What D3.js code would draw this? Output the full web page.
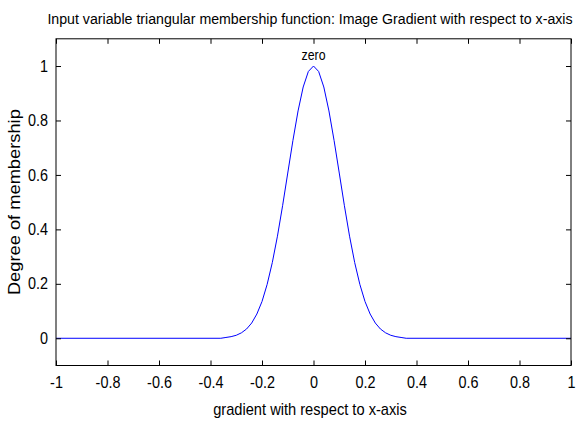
<!DOCTYPE html>
<html>
<head>
<meta charset="utf-8">
<script src="https://cdn.jsdelivr.net/npm/d3@7"></script>
<style>
  html, body { margin: 0; padding: 0; background: #fff; }
  svg { display: block; font-family: "Liberation Sans", Arial, Helvetica, sans-serif; }
</style>
</head>
<body>
<svg id="chart" width="580" height="421"></svg>
<script>
// ---- data ----
const titleText = "Input variable triangular membership function: Image Gradient with respect to x-axis";
const xLabelText = "gradient with respect to x-axis";
const yLabelText = "Degree of membership";
const mfName = "zero";
const mfPeakX = 0;
const mfPeakY = 1;

const xTicks = [-1, -0.8, -0.6, -0.4, -0.2, 0, 0.2, 0.4, 0.6, 0.8, 1];
const xTickLabels = ["-1", "-0.8", "-0.6", "-0.4", "-0.2", "0", "0.2", "0.4", "0.6", "0.8", "1"];
const yTicks = [0, 0.2, 0.4, 0.6, 0.8, 1];
const yTickLabels = ["0", "0.2", "0.4", "0.6", "0.8", "1"];

const xValues = [-1, -0.36, -0.34, -0.32, -0.30, -0.28, -0.26, -0.24, -0.22, -0.20, -0.18, -0.16, -0.14, -0.12, -0.10, -0.08, -0.06, -0.04, -0.02, 0,
                 0.02, 0.04, 0.06, 0.08, 0.10, 0.12, 0.14, 0.16, 0.18, 0.20, 0.22, 0.24, 0.26, 0.28, 0.30, 0.32, 0.34, 0.36, 1];
const yValues = [0, 0, 0.003, 0.006, 0.011, 0.020, 0.034, 0.056, 0.089, 0.135, 0.198, 0.278, 0.375, 0.487, 0.607, 0.726, 0.835, 0.923, 0.980, 1,
                 0.980, 0.923, 0.835, 0.726, 0.607, 0.487, 0.375, 0.278, 0.198, 0.135, 0.089, 0.056, 0.034, 0.020, 0.011, 0.006, 0.003, 0, 0];

// ---- layout ----
const svg = d3.select("#chart");
const L = 56, R = 571, T = 38.8, B = 365.5;

const x = d3.scaleLinear().domain([-1, 1]).range([L, R]);
const y = d3.scaleLinear().domain([-0.1, 1.1]).range([B, T]);

const tickLen = 5;

// text fitted to a target width: condensed via smaller font + vertical stretch,
// or widened via horizontal stretch
function fittedText(parent, str, cx, cy, targetW, targetFs, rotate) {
  const t = parent.append("text")
    .attr("text-anchor", "middle")
    .attr("fill", "#000")
    .attr("font-size", targetFs)
    .text(str);
  const w = t.node().getComputedTextLength();
  const rot = rotate ? " rotate(-90)" : "";
  if (w > targetW) {
    const fs = targetFs * targetW / w;
    t.attr("font-size", fs)
     .attr("transform", `translate(${cx},${cy})${rot} scale(1,${targetFs / fs})`);
  } else {
    t.attr("transform", `translate(${cx},${cy})${rot} scale(${targetW / w},1)`);
  }
  return t;
}

// title
fittedText(svg, titleText, 310, 24, 526, 15, false);

// curve
const pts = xValues.map((v, i) => [v, yValues[i]]);
svg.append("path")
  .datum(pts)
  .attr("fill", "none")
  .attr("stroke", "#0000ff")
  .attr("stroke-width", 1)
  .attr("d", d3.line().x(d => x(d[0])).y(d => y(d[1])));

// axes (MATLAB style box with inward ticks)
const bottomAxis = d3.axisBottom(x).tickValues(xTicks).tickSizeInner(-tickLen).tickSizeOuter(0)
  .tickFormat((d, i) => xTickLabels[i]).tickPadding(11);
const topAxis = d3.axisTop(x).tickValues(xTicks).tickSizeInner(-tickLen).tickSizeOuter(0).tickFormat("");
const leftAxis = d3.axisLeft(y).tickValues(yTicks).tickSizeInner(-tickLen).tickSizeOuter(0)
  .tickFormat((d, i) => yTickLabels[i]).tickPadding(9);
const rightAxis = d3.axisRight(y).tickValues(yTicks).tickSizeInner(-tickLen).tickSizeOuter(0).tickFormat("");

function style(g) {
  g.selectAll(".domain").remove();
  g.selectAll(".tick line").attr("stroke", "#000").attr("stroke-width", 1);
  g.selectAll(".tick text").attr("fill", "#000").attr("font-size", 16)
    .attr("font-family", '"Liberation Sans", Arial, sans-serif')
    .attr("transform", "scale(0.9,1)");
}

svg.append("g").attr("transform", `translate(0,${B})`).call(bottomAxis).call(style);
svg.append("g").attr("transform", `translate(0,${T})`).call(topAxis).call(style);
svg.append("g").attr("transform", `translate(${L},0)`).call(leftAxis).call(style);
svg.append("g").attr("transform", `translate(${R},0)`).call(rightAxis).call(style);

// frame
svg.append("rect")
  .attr("x", L).attr("y", T).attr("width", R - L).attr("height", B - T)
  .attr("fill", "none").attr("stroke", "#000").attr("stroke-width", 1);

// mf label
fittedText(svg, mfName, x(mfPeakX), y(mfPeakY) - 6, 24, 15, false);

// axis labels
fittedText(svg, xLabelText, 310, 415, 194, 16, false);
fittedText(svg, yLabelText, 20, (T + B) / 2, 186, 16, true);
</script>
</body>
</html>
